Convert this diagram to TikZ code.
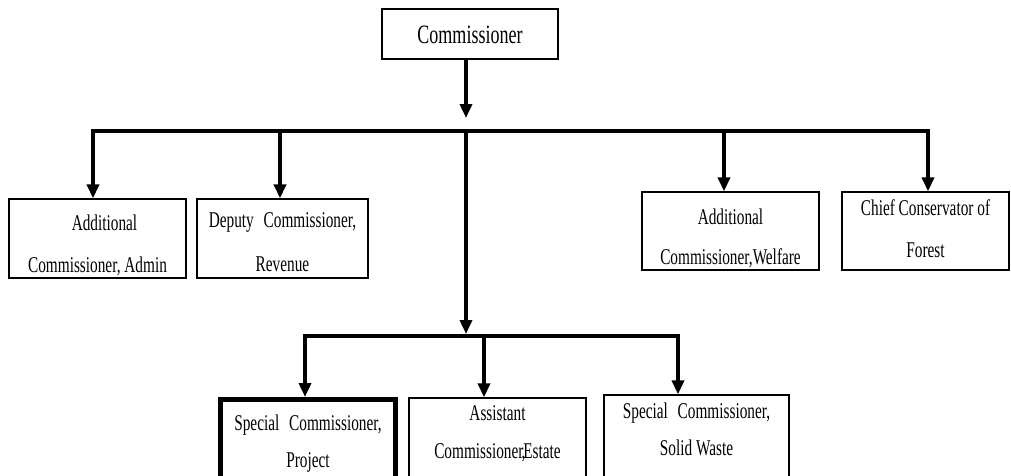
\documentclass[tikz,border=0pt]{standalone}
\usepackage{fontspec}
\setmainfont{Liberation Serif}[FakeStretch=0.68]
\usetikzlibrary{arrows.meta}

\begin{document}
\begin{tikzpicture}[x=1pt,y=-1pt,
  box/.style={draw, line width=1.3pt, rectangle, inner sep=0pt, align=center,
              font=\fontsize{22.5}{40}\selectfont},
  headbox/.style={box, font=\fontsize{26.5}{30}\selectfont},
  keybox/.style={box, line width=5pt},
  % lowers the text so that its last baseline sits #1/2 below the box centre
  drop/.style={text height=#1, text depth=0pt},
  link/.style={line width=3.5pt, line join=miter},
  feed/.style={link, -{Triangle[width=12pt,length=14pt]}}]
\useasboundingbox (0,0) rectangle (1011,475);
\clip (0,0) rectangle (1011,475);

% head of the organisation
\node[headbox, drop=19pt, minimum width=176pt, minimum height=50pt] (comm) at (470,34) {Commissioner};

% first tier
\node[box, drop=67pt, minimum width=177pt, minimum height=79pt] (adm) at (97.5,238.5)
  {\hspace{14pt}Additional\\[2pt]Commissioner, Admin};
\node[box, drop=65pt, minimum width=171pt, minimum height=79pt] (dcr) at (282.5,238.5)
  {Deputy\hspace{6pt} Commissioner,\\[4pt]Revenue};
\node[box, drop=66pt, minimum width=177pt, minimum height=78pt] (acw) at (730.5,231)
  {Additional\\Commissioner,Welfare};
\node[box, drop=53pt, minimum width=167pt, minimum height=78pt] (ccf) at (925.5,231)
  {Chief Conservator of\\[2pt]Forest};

% second tier
\node[keybox, drop=44pt, minimum width=175pt, minimum height=91pt] (scp) at (308,445)
  {Special\hspace{6pt} Commissioner,\\[-3pt]Project};
\node[box, drop=29pt, minimum width=177pt, minimum height=92pt] (ace) at (497.5,444)
  {Assistant\\[-2pt]Commissioner\kern-2pt,\kern-2pt Estate};
\node[box, drop=25pt, minimum width=185pt, minimum height=95pt] (scs) at (696.5,442.5)
  {Special\hspace{6pt} Commissioner,\\[-3pt]Solid Waste};

% junctions of the connector buses
\coordinate (t1) at (466,118);
\coordinate (j1) at (466,131);
\coordinate (c1) at (93,131);
\coordinate (c2) at (280,131);
\coordinate (c3) at (724,131);
\coordinate (c4) at (928,131);
\coordinate (t2) at (466,334);
\coordinate (j2) at (466,336);
\coordinate (d1) at (305,336);
\coordinate (d2) at (484,336);
\coordinate (d3) at (678,336);

% upper bus
\draw[feed] (comm.south -| t1) -- (t1);
\draw[feed] (j1) -- (c1) -- (adm.north -| c1);
\draw[feed] (j1) -- (c4) -- (ccf.north -| c4);
\draw[feed] (c2) -- (dcr.north -| c2);
\draw[feed] (c3) -- (acw.north -| c3);

% lower bus
\draw[feed] (j1) -- (t2);
\draw[feed] (j2) -- (d1) -- (scp.north -| d1);
\draw[feed] (j2) -- (d3) -- (scs.north -| d3);
\draw[feed] (d2) -- (ace.north -| d2);
\end{tikzpicture}
\end{document}
